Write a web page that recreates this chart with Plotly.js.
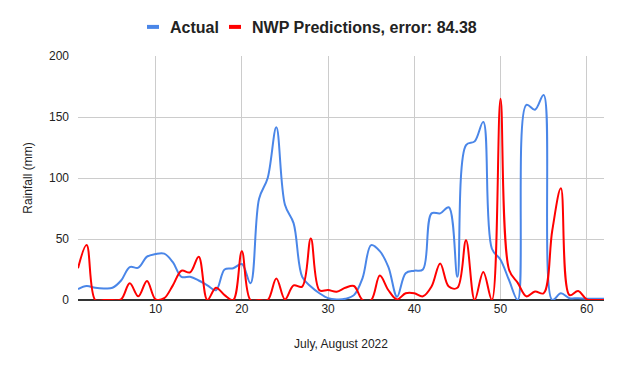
<!DOCTYPE html>
<html>
<head>
<meta charset="utf-8">
<script src="https://cdn.plot.ly/plotly-3.0.1.min.js"></script>
<style>
  html, body { margin: 0; padding: 0; background: #fff; }
  #chart { width: 623px; height: 371px; }
</style>
</head>
<body>
<div id="chart"></div>
<script>
// days 1..62 (July, August 2022)
const days = Array.from({ length: 62 }, (_, i) => i + 1);

// observed rainfall (mm)
const actual = [
  9, 11.5, 10, 9.5, 10, 16, 27, 26.5, 35.5, 37.7,
  38, 31, 19, 19, 16, 12, 8, 25, 26, 29.5,
  13.7, 83, 100, 141.5, 78, 63, 19, 11, 5.5, 1.5,
  0.5, 1, 4, 18, 45, 40, 27, 2.7, 22, 24,
  25, 71, 71, 76, 19, 127, 130, 146, 42, 33,
  16, 0, 160, 156, 168, 0, 5.5, 1.5, 1.5, 1,
  1, 1
];

// NWP predicted rainfall (mm)
const nwp = [
  26, 45, 0, 0, 0, 0.5, 13.7, 3, 15.6, 0.5,
  1.5, 12, 24, 22.6, 35.5, 0, 10, 4, 0, 40,
  0, 0, 0, 17.7, 0.5, 12, 11, 50.5, 8, 8.2,
  6.8, 10, 11.5, 0, 0, 20, 8, 0.5, 5.5, 5.5,
  3, 11, 30, 11, 10, 49, 0, 23, 0, 165,
  24.6, 14, 3, 7, 5.5, 57, 91.5, 4, 7.4, 0.5,
  0, 0
];

const seriesNames = ["Actual", "NWP Predictions, error: 84.38"];
const seriesColors = ["#4a86e8", "#ff0000"];
const xTicks = [10, 20, 30, 40, 50, 60];
const yTicks = [0, 50, 100, 150, 200];

const traces = [actual, nwp].map((vals, i) => ({
  x: days,
  y: vals,
  type: "scatter",
  mode: "lines",
  name: seriesNames[i],
  legend: i === 0 ? "legend" : "legend2",
  line: { color: seriesColors[i], width: 2, shape: "spline", smoothing: 1 },
  hoverinfo: "x+y"
}));

// one legend per series so each entry sits where the original has it
const legendBase = {
  orientation: "h",
  xref: "container", yref: "container",
  xanchor: "left", yanchor: "middle",
  y: 1 - 27 / 371,
  font: { size: 16, color: "#222", weight: "bold" },
  itemwidth: 30,
  bgcolor: "rgba(0,0,0,0)"
};

const layout = {
  width: 623,
  height: 371,
  margin: { l: 78, r: 19, t: 56, b: 71 },
  paper_bgcolor: "#fff",
  plot_bgcolor: "#fff",
  font: { family: "Liberation Sans, Arial, sans-serif", size: 12, color: "#222" },
  showlegend: true,
  legend: Object.assign({}, legendBase, { x: (170 - 40) / 623 }),
  legend2: Object.assign({}, legendBase, { x: (252 - 40) / 623 }),
  xaxis: {
    range: [1, 62],
    tickvals: xTicks,
    ticks: "",
    showgrid: true,
    gridcolor: "#cccccc",
    gridwidth: 1,
    zeroline: false,
    showline: false,
    tickfont: { size: 12, color: "#222" },
    title: { text: "July, August 2022", font: { size: 12, color: "#222" }, standoff: 24 }
  },
  yaxis: {
    range: [0, 200],
    tickvals: yTicks,
    ticks: "",
    showgrid: true,
    gridcolor: "#cccccc",
    gridwidth: 1,
    zeroline: true,
    zerolinecolor: "#333",
    zerolinewidth: 2,
    tickfont: { size: 12, color: "#222" },
    ticklabelstandoff: 8,
    title: { text: "Rainfall (mm)", font: { size: 12, color: "#222" }, standoff: 13 }
  }
};

Plotly.newPlot("chart", traces, layout, { displayModeBar: false, staticPlot: true }).then(() => {
  // short, thick legend dashes like the original (both legends)
  document.querySelectorAll("#chart .legendlines path").forEach((p) => {
    p.setAttribute("d", "M17,0h12");
    p.style.strokeWidth = "4px";
  });
});
</script>
</body>
</html>
